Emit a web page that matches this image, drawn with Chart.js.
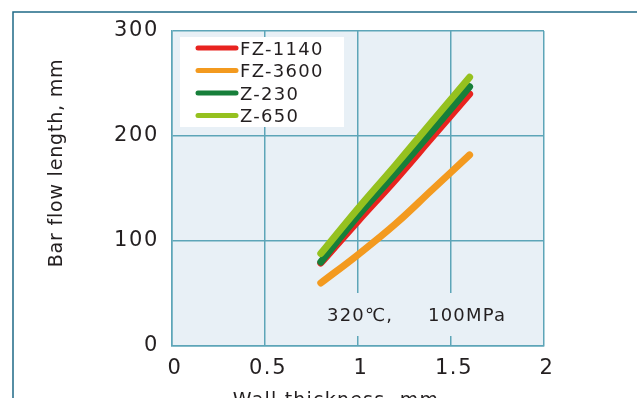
<!DOCTYPE html>
<html>
<head>
<meta charset="utf-8">
<script src="https://cdn.jsdelivr.net/npm/chart.js@4.4.0/dist/chart.umd.min.js"></script>
<style>
  html, body { margin: 0; padding: 0; background: #fff; }
  #wrap { width: 637px; height: 398px; position: relative; }
</style>
</head>
<body>
<div id="wrap"><canvas id="myChart" width="637" height="398"></canvas></div>
<script>
'use strict';

//********************* Data *************************/
let thickness = [0.8, 1.0, 1.2, 1.4, 1.6];
let seriesNames = ['FZ-1140', 'FZ-3600', 'Z-230', 'Z-650'];
let fz1140 = [79, 119, 158, 199, 240];
let fz3600 = [60, 87, 116, 149, 182];
let z230 = [80, 124, 164, 205, 247];
let z650 = [88, 131, 172, 214, 256];
let seriesColors = ['#e8231f', '#f39a1f', '#177f3a', '#95c11f'];
let xTicks = [0, 0.5, 1, 1.5, 2];
let yTicks = [0, 100, 200, 300];
let noteText = ['320℃,', '100MPa'];

let fontName = '"DejaVu Sans", sans-serif';
let gridColor = '#5da5b8';
let textColor = '#231f20';

function toPoints(ys) {
  let pts = [];
  for (let i = 0; i < thickness.length; i++) {
    pts.push({ x: thickness[i], y: ys[i] });
  }
  return pts;
}

let allSeries = [fz1140, fz3600, z230, z650];
let drawOrder = [3, 4, 2, 1];
let datasets = [];
for (let i = 0; i < seriesNames.length; i++) {
  datasets.push({
    label: seriesNames[i],
    data: toPoints(allSeries[i]),
    borderColor: seriesColors[i],
    backgroundColor: seriesColors[i],
    borderWidth: 7,
    borderCapStyle: 'round',
    pointRadius: 0,
    tension: 0.4,
    order: drawOrder[i]
  });
}

//********************** Plugins ****************************/
let framePlugin = {
  id: 'frame',
  beforeDraw(chart) {
    let c = chart.ctx;
    let a = chart.chartArea;
    c.save();
    c.fillStyle = '#e8f0f6';
    c.fillRect(a.left, a.top, a.right - a.left, a.bottom - a.top);
    c.strokeStyle = '#1f6a86';
    c.lineWidth = 1.5;
    c.beginPath();
    c.moveTo(13, 400);
    c.lineTo(13, 12);
    c.lineTo(640, 12);
    c.stroke();
    c.restore();
    // the tick labels are a bit spaced out
    c.letterSpacing = '1.6px';
  },
  beforeDatasetsDraw(chart) {
    let c = chart.ctx;
    c.letterSpacing = '0px';
    c.save();
    // text patch covers the grid lines behind the note
    c.fillStyle = '#e8f0f6';
    c.fillRect(310, 293, 225, 43);
    c.fillStyle = textColor;
    c.font = '18px ' + fontName;
    c.letterSpacing = '1.2px';
    c.textBaseline = 'alphabetic';
    c.textAlign = 'left';
    c.fillText(noteText[0], 327, 321);
    c.fillText(noteText[1], 428, 321);

    // axis titles
    c.font = '19px ' + fontName;
    c.letterSpacing = '1.2px';
    c.textAlign = 'center';
    c.fillText('Wall thickness, mm', 336, 406);
    c.translate(62, 163);
    c.rotate(-Math.PI / 2);
    c.letterSpacing = '0.8px';
    c.fillText('Bar flow length, mm', 0, 0);
    c.restore();
  },
  afterDatasetsDraw(chart) {
    let c = chart.ctx;
    c.save();
    c.fillStyle = '#ffffff';
    c.fillRect(180, 37, 164, 90);
    c.font = '18px ' + fontName;
    c.letterSpacing = '1.3px';
    c.textBaseline = 'alphabetic';
    c.textAlign = 'left';
    for (let i = 0; i < seriesNames.length; i++) {
      let y = 48 + i * 22.5;
      c.strokeStyle = seriesColors[i];
      c.lineWidth = 5;
      c.lineCap = 'round';
      c.beginPath();
      c.moveTo(198, y);
      c.lineTo(236, y);
      c.stroke();
      c.fillStyle = textColor;
      c.fillText(seriesNames[i], 240, y + 6.5);
    }
    c.restore();
  }
};

//********************** Chart ****************************/
const ctx = document.getElementById('myChart').getContext('2d');

const myChart = new Chart(ctx, {
  type: 'line',
  data: { datasets: datasets },
  options: {
    responsive: false,
    animation: false,
    layout: { padding: { top: 31, right: 93, left: 0, bottom: 0 } },
    plugins: {
      legend: { display: false },
      tooltip: { enabled: false }
    },
    scales: {
      x: {
        type: 'linear',
        min: 0,
        max: 2,
        afterBuildTicks: s => { s.ticks = xTicks.map(v => ({ value: v })); },
        afterFit: s => { s.height = 52; },
        ticks: {
          color: textColor,
          font: { family: fontName, size: 21 },
          padding: 10,
          labelOffset: 3,
          maxRotation: 0,
          callback: v => String(v)
        },
        grid: { color: gridColor, lineWidth: 1.5, drawTicks: false },
        border: { color: gridColor, width: 1.5 }
      },
      y: {
        min: 0,
        max: 300,
        afterBuildTicks: s => { s.ticks = yTicks.map(v => ({ value: v })); },
        afterFit: s => { s.width = 172; },
        ticks: {
          color: textColor,
          font: { family: fontName, size: 21 },
          padding: 13
        },
        grid: { color: gridColor, lineWidth: 1.5, drawTicks: false },
        border: { color: gridColor, width: 1.5 }
      }
    }
  },
  plugins: [framePlugin]
});
</script>
</body>
</html>
